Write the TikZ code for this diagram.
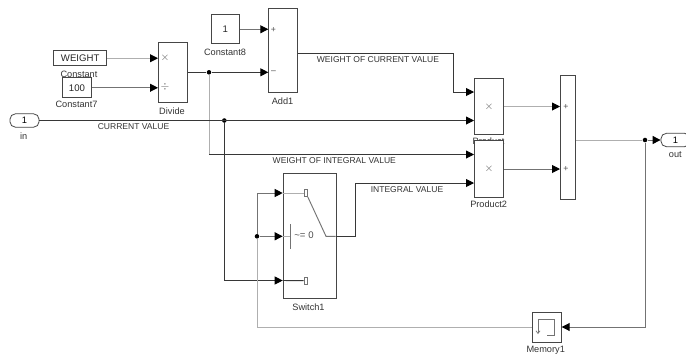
\documentclass[tikz,border=0pt]{standalone}
\usepackage{fontspec}
\setmainfont{Liberation Sans}
\usetikzlibrary{positioning,arrows.meta,calc}
\definecolor{wire}{RGB}{55,55,55}
\definecolor{midwire}{RGB}{115,115,115}
\definecolor{faint}{RGB}{175,175,175}
\definecolor{blockline}{RGB}{70,70,70}
\tikzset{
  blockbox/.style={draw=blockline, line width=0.75pt, fill=white, inner sep=0pt, anchor=north west},
  portbox/.style={draw=blockline, line width=0.6pt, fill=white, rounded corners=4pt, inner sep=0pt, minimum width=21.75pt, minimum height=10pt, font=\fontsize{7}{8}\selectfont},
  wireline/.style={draw=wire, line width=0.7pt},
  midline/.style={draw=midwire, line width=0.7pt},
  faintline/.style={draw=faint, line width=0.7pt},
  sig/.style={-{Triangle[length=6pt,width=6pt,black]}},
  lbl/.style={font=\fontsize{6.9}{8}\selectfont, text=black!80, inner sep=0pt},
  siglbl/.style={font=\fontsize{6.4}{8}\selectfont, text=black!80, inner sep=0pt},
  val/.style={font=\fontsize{7.2}{8}\selectfont, text=black!85, inner sep=0pt},
  sgn/.style={font=\fontsize{6.5}{7}\selectfont, text=black!70, inner sep=0pt},
  opsgn/.style={font=\fontsize{8}{8}\selectfont, text=black!60, inner sep=0pt},
  joint/.style={circle, fill=black, inner sep=0pt, minimum size=3.4pt}
}
\begin{document}
\begin{tikzpicture}[x=0.75pt, y=-0.75pt]
  \useasboundingbox (0,0) rectangle (686,358);
  % blocks
  \node[lbl] (weightlbl) at (79,74) {Constant};
  \node[blockbox, minimum width=40pt, minimum height=11.6pt] (weight) at (53,50) {};
  \node[val] (weighttxt) at (weight.center) {WEIGHT};
  \node[blockbox, minimum width=21.75pt, minimum height=14.8pt] (const7) at (62,77.4) {};
  \node[val] (const7txt) at (const7.center) {100};
  \node[lbl] (const7lbl) at (76.5,104.5) {Constant7};
  \node[blockbox, minimum width=21.75pt, minimum height=45pt] (divide) at (158,42.3) {};
  \node[lbl] (dividelbl) at (172,111) {Divide};
  \node[blockbox, minimum width=21.5pt, minimum height=21.7pt] (const8) at (210.5,14.3) {};
  \node[val] (const8txt) at (const8.center) {1};
  \node[lbl] (const8lbl) at (225,52) {Constant8};
  \node[blockbox, minimum width=21.5pt, minimum height=63pt] (add) at (268.3,8.3) {};
  \node[lbl] (addlbl) at (282.5,101) {Add1};
  \node[lbl] (productlbl) at (488.5,141.5) {Product};
  \node[blockbox, minimum width=21.75pt, minimum height=42pt] (product) at (474,78) {};
  \node[blockbox, minimum width=21.75pt, minimum height=42.75pt] (product2) at (474,140) {};
  \node[lbl] (product2lbl) at (488.7,204.5) {Product2};
  \node[blockbox, minimum width=11.25pt, minimum height=93pt] (sum) at (560,75) {};
  \node[blockbox, minimum width=39.75pt, minimum height=93.75pt] (switch) at (282.7,173) {};
  \node[lbl] (switchlbl) at (308.5,307) {Switch1};
  \node[blockbox, minimum width=21.75pt, minimum height=22.5pt] (memory) at (531.7,312) {};
  \node[lbl] (memorylbl) at (545.7,350) {Memory1};
  \node[portbox] (in) at (24.5,120.5) {1};
  \node[lbl] (inlbl) at (23.7,135.7) {in};
  \node[portbox] (out) at (675.5,140) {1};
  \node[lbl] (outlbl) at (675.3,155) {out};
  % block contents
  \node[opsgn] at (165,58) {$\times$};
  \node[opsgn] at (165,87) {$\div$};
  \node[sgn] at (273.5,29.5) {+};
  \node[sgn] at (273.5,72) {--};
  \node[opsgn] at (489,106.5) {$\times$};
  \node[opsgn] at (489,169) {$\times$};
  \node[sgn] at (566,106.5) {+};
  \node[sgn] at (566,169) {+};
  \node[val, text=black!70] (thresh) at (304,235) {\textasciitilde= 0};
  \coordinate (swin1) at (282.7,193);
  \coordinate (swin2) at (282.7,236.3);
  \coordinate (swin3) at (282.7,280.5);
  \coordinate (swpole) at (326,236.3);
  \coordinate (swout) at (335.7,236.3);
  \node[draw=midwire, fill=white, line width=0.5pt, inner sep=0pt, minimum width=2.6pt, minimum height=5.6pt] (swa) at (305.8,193) {};
  \node[draw=midwire, fill=white, line width=0.5pt, inner sep=0pt, minimum width=2.6pt, minimum height=5.6pt] (swb) at (305.8,280.7) {};
  \coordinate (bartop) at (290.7,224);
  \coordinate (barbot) at (290.7,248.7);
  \draw[faintline] (swin1) -- (swa);
  \draw[wireline] (swin3) -- (swb);
  \draw[midline] (swa.south east) -- (swpole) -- (swout);
  \draw[faintline] (swin2) -- (swin2 -| bartop);
  \draw[midline] (bartop) -- (barbot);
  % memory icon
  \draw[midline, line width=0.5pt, -{Straight Barb[length=2pt,width=3pt]}] (547,335) -- (554,335) -- (554,319) -- (538,319) -- (538,334);
  % nodes on wires
  \node[joint] (j1) at (209,72.3) {};
  \node[joint] (j2) at (224.3,120.5) {};
  \node[joint] (j3) at (257,236.3) {};
  \node[joint] (j4) at (645,140) {};
  \coordinate (k1) at (209,154.5);
  \coordinate (k2) at (224.3,280.5);
  \coordinate (k3) at (257,193);
  \coordinate (k4) at (257,327);
  \coordinate (k5) at (645,327);
  \coordinate (k6) at (355,236.3);
  \coordinate (k7) at (355,183);
  \coordinate (k8) at (453.5,53);
  \coordinate (k9) at (453.5,92);
  % wires
  \draw[faintline, sig] (weight.east) -- (weight.east -| divide.west);
  \draw[midline, sig] (const7.east) -- (const7.east -| divide.west);
  \draw[midline, sig] (const8.east) -- (const8.east -| add.west);
  \draw[wireline] (j1 -| divide.east) -- (j1);
  \draw[wireline, sig] (j1) -- (j1 -| add.west);
  \draw[faintline] (j1) -- (k1);
  \draw[wireline, sig] (k1) -- (k1 -| product.west);
  \draw[wireline, sig] (k8 -| add.east) -- (k8) -- (k9) -- (k9 -| product.west);
  \draw[wireline, sig] (in.east) -- (in.east -| product.west);
  \draw[wireline] (j2) -- (k2);
  \draw[wireline, sig] (k2) -- (swin3);
  \draw[wireline, sig] (swout) -- (k6) -- (k7) -- (k7 -| product2.west);
  \draw[faintline, sig] (product.east) -- (product.east -| sum.west);
  \draw[midline, sig] (product2.east) -- (product2.east -| sum.west);
  \draw[faintline] (j4 -| sum.east) -- (j4);
  \draw[midline, sig] (j4) -- (out.west);
  \draw[midline, sig] (j4) -- (k5) -- (k5 -| memory.east);
  \draw[faintline] (k5 -| memory.west) -- (k4) -- (j3);
  \draw[midline, sig] (j3) -- (swin2);
  \draw[midline, sig] (j3) -- (k3) -- (swin1);
  % signal labels
  \node[siglbl] (curweightlbl) at (378,60) {WEIGHT OF CURRENT VALUE};
  \node[siglbl] (curlbl) at (133.5,127) {CURRENT VALUE};
  \node[siglbl] (intweightlbl) at (334.3,161) {WEIGHT OF INTEGRAL VALUE};
  \node[siglbl] (intlbl) at (407,190) {INTEGRAL VALUE};
\end{tikzpicture}
\end{document}
